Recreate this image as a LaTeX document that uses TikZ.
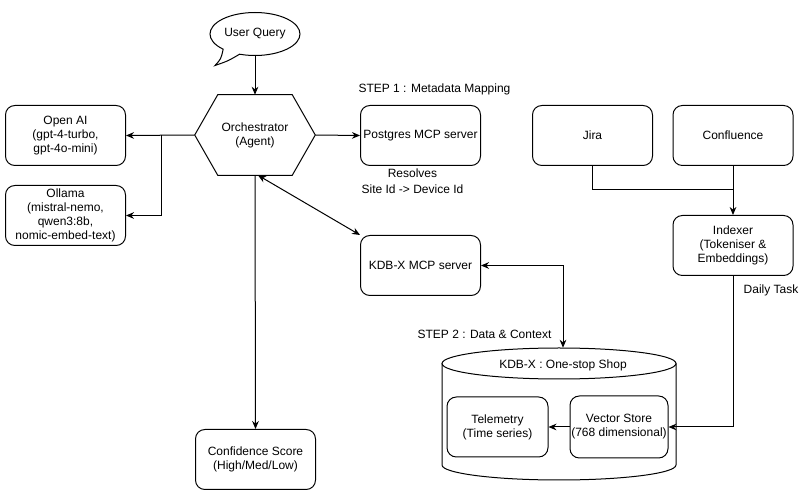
\documentclass[tikz,border=0pt]{standalone}
\usepackage{fontspec}
\setmainfont{Liberation Sans}
\usetikzlibrary{arrows.meta,shapes.geometric}
\begin{document}
\begin{tikzpicture}[x=0.75pt,y=-0.75pt,
  every node/.style={font=\fontsize{9}{10.5}\selectfont, align=center, inner sep=0pt},
  box/.style={draw, line width=0.75pt, rounded corners=7pt, minimum width=90pt, minimum height=45pt},
  ln/.style={line width=0.75pt},
  conn/.style={line width=0.75pt, -{Stealth[length=6pt,width=5pt]}},
  dconn/.style={line width=0.75pt, {Stealth[length=6pt,width=5pt]}-{Stealth[length=6pt,width=5pt]}},
  lbl/.style={font=\fontsize{9}{12}\selectfont}]
\useasboundingbox (0,0) rectangle (808,495);

% User query callout
\node[ellipse, minimum width=67.5pt, minimum height=32pt] (uq) at (255,34) {User Query};
\draw[ln] (uq.center) ++(135:45 and 21.5)
  arc[start angle=135, end angle=470, x radius=45, y radius=21.5]
  .. controls (228,61) .. (215,65.5) .. controls (221,59) .. cycle;

% Orchestrator hexagon
\node[minimum width=90pt, minimum height=60pt] (orch) at (255,135) {Orchestrator\\(Agent)};
\draw[ln] (orch.west) -- ([xshift=17.25pt]orch.north west) -- ([xshift=-17.25pt]orch.north east)
  -- (orch.east) -- ([xshift=-17.25pt]orch.south east) -- ([xshift=17.25pt]orch.south west) -- cycle;

% Boxes
\node[box] (openai) at (65.5,135.5) {Open AI\\(gpt-4-turbo,\\gpt-4o-mini)};
\node[box] (ollama) at (65.5,215.5) {Ollama\\(mistral-nemo,\\qwen3:8b,\\nomic-embed-text)};
\node[box] (postgres) at (420.5,135.5) {Postgres MCP server};
\node[box] (kdbmcp) at (420.5,265.5) {KDB-X MCP server};
\node[box] (conf) at (255.5,459.5) {Confidence Score\\(High/Med/Low)};
\node[box] (jira) at (592.5,135.5) {Jira};
\node[box] (confluence) at (733,135.5) {Confluence};
\node[box] (indexer) at (733,245.5) {Indexer\\(Tokeniser \&\\Embeddings)};

% Cylinder
\node[minimum width=175.5pt, minimum height=99pt] (cyl) at (559,414) {};
\draw[ln] (442,363.5) -- (442,465) arc[start angle=180, end angle=0, x radius=117, y radius=15]
  -- (676,363.5);
\draw[ln] (559,363.5) ellipse [x radius=117, y radius=15.5];
\node (cyllabel) at (563,365) {KDB-X : One-stop Shop};
\node[box, minimum width=75.75pt] (telemetry) at (497.5,427) {Telemetry\\(Time series)};
\node[box, minimum width=73.5pt, minimum height=46.5pt] (vector) at (619,427) {Vector Store\\(768 dimensional)};

% Labels
\node[lbl] (step1) at (434.5,89) {STEP 1 : Metadata Mapping};
\node[lbl] (resolves) at (412.5,181) {Resolves\\Site Id -> Device Id};
\node[lbl] (step2) at (484.5,334) {STEP 2 : Data \& Context};
\node[lbl] (daily) at (771,290) {Daily Task};

% Connectors
\draw[conn] (uq.south) -- (orch.north);
\coordinate (split) at (161,135);
\draw[conn] (orch.west) -- (openai.east);
\draw[conn] (split) |- (ollama.east);
\draw[conn] (orch.east) -- (postgres.west);
\draw[dconn] ([xshift=2.25pt]orch.south) -- (kdbmcp.north west);
\draw[conn] (orch.south) -- (conf.north);
\draw[dconn] (kdbmcp.east) -| ([xshift=3pt]cyl.north);
\draw[conn] (vector.west) -- (telemetry.east);
\draw[conn] (indexer.south) |- (vector.east);
\coordinate (join) at (733,190);
\draw[ln] (jira.south) |- (join);
\draw[conn] (confluence.south) -- (indexer.north);
\end{tikzpicture}
\end{document}
